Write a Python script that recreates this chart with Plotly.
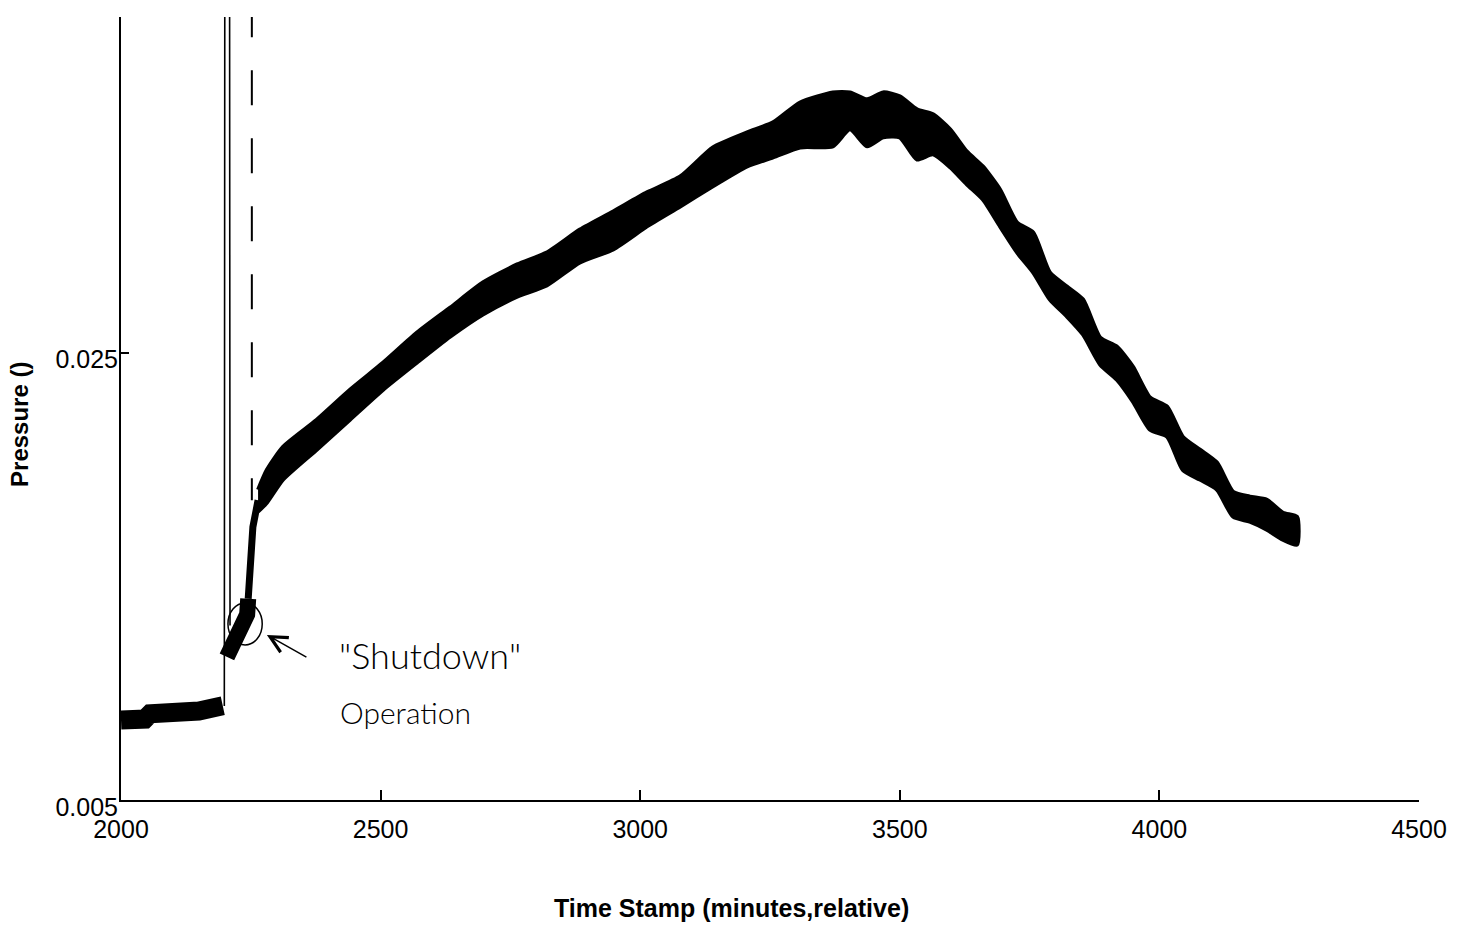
import plotly.graph_objects as go

# ---- data ----
pre_x = [2000, 2046, 2056, 2100, 2150, 2196]
pre_y = [0.00858, 0.00862, 0.00885, 0.00889, 0.00898, 0.00921]

spike_x = [2199, 2201, 2208, 2210]
spike_y = [0.0092, 0.080, 0.080, 0.0128]

blob_x = [2204, 2214, 2229, 2243, 2245]
blob_y = [0.0114, 0.0119, 0.0126, 0.0133, 0.0140]

rise_x = [2245, 2248, 2254, 2264]
rise_y = [0.0140, 0.0157, 0.0172, 0.0184]

main_x = [2264, 2281, 2312, 2377, 2441, 2505, 2570, 2634, 2697, 2763, 2820, 2884,
          2948, 3013, 3077, 3140, 3206, 3256, 3308, 3371, 3404, 3437, 3468, 3500,
          3533, 3564, 3597, 3629, 3660, 3693, 3726, 3757, 3789, 3822, 3853, 3886,
          3918, 3949, 3982, 4015, 4045, 4078, 4111, 4142, 4174, 4207, 4238, 4265]
main_upper = [0.01887, 0.01976, 0.02079, 0.02200, 0.02334, 0.02455, 0.02589, 0.02701,
              0.02813, 0.02894, 0.02947, 0.03050, 0.03131, 0.03216, 0.03287, 0.03417,
              0.03484, 0.03529, 0.03618, 0.03663, 0.03663, 0.03632, 0.03663, 0.03645,
              0.03587, 0.03565, 0.03498, 0.03399, 0.03332, 0.03229, 0.03081, 0.03037,
              0.02858, 0.02795, 0.02737, 0.02567, 0.02527, 0.02437, 0.02299, 0.02258,
              0.02124, 0.02066, 0.02008, 0.01878, 0.01856, 0.01842, 0.01784, 0.01766]
main_lower = [0.01789, 0.01829, 0.01932, 0.02066, 0.02200, 0.02334, 0.02455, 0.02571,
              0.02670, 0.02750, 0.02800, 0.02903, 0.02961, 0.03064, 0.03153, 0.03243,
              0.03332, 0.03372, 0.03417, 0.03422, 0.03498, 0.03422, 0.03462, 0.03462,
              0.03363, 0.03386, 0.03328, 0.03252, 0.03184, 0.03064, 0.02947, 0.02858,
              0.02737, 0.02661, 0.02580, 0.02446, 0.02379, 0.02281, 0.02155, 0.02124,
              0.01976, 0.01932, 0.01887, 0.01766, 0.01744, 0.01708, 0.01663, 0.01641]

dash_x = [2252, 2252]
dash_y = [0.04066, 0.0184]

x_ticks = [2000, 2500, 3000, 3500, 4000, 4500]
y_ticks = [0.005, 0.025]
y_ticktext = ["0.005", "0.025"]

FONT = "Liberation Sans"

fig = go.Figure()

fig.add_trace(go.Scatter(x=pre_x, y=pre_y, mode="lines",
                         line=dict(color="black", width=19)))
fig.add_trace(go.Scatter(x=spike_x, y=spike_y, mode="lines",
                         line=dict(color="black", width=1.6)))
fig.add_trace(go.Scatter(x=blob_x, y=blob_y, mode="lines",
                         line=dict(color="black", width=16)))
fig.add_trace(go.Scatter(x=rise_x, y=rise_y, mode="lines",
                         line=dict(color="black", width=7)))
fig.add_trace(go.Scatter(x=main_x + main_x[::-1], y=main_upper + main_lower[::-1],
                         mode="lines", fill="toself", fillcolor="black",
                         line=dict(color="black", width=4, shape="spline", smoothing=0.6)))
fig.add_trace(go.Scatter(x=dash_x, y=dash_y, mode="lines",
                         line=dict(color="black", width=2, dash="35px,33px")))

# hand-drawn annotation
fig.add_shape(type="circle", xref="x", yref="y", x0=2206, x1=2272, y0=0.01193, y1=0.01381,
              line=dict(color="black", width=1.5))
fig.add_annotation(x=2281, y=0.01238, ax=41, ay=23, axref="pixel", ayref="pixel",
                   text="", showarrow=True, arrowhead=5, arrowsize=2.2, arrowwidth=1.5,
                   arrowcolor="black")
fig.add_annotation(x=2595, y=0.01149, text="\"Shutdown\"", showarrow=False,
                   font=dict(family="Lato", size=36, color="black", weight=300))
fig.add_annotation(x=2547, y=0.00894, text="Operation", showarrow=False,
                   font=dict(family="Lato", size=30, color="black", weight=300))

# axis titles
fig.add_annotation(xref="paper", yref="paper", x=-0.0778, y=0.479, text="<b>Pressure ()</b>",
                   textangle=-90, showarrow=False, xanchor="center", yanchor="middle",
                   font=dict(family=FONT, size=24, color="black"))
fig.add_annotation(xref="paper", yref="paper", x=0.4707, y=-0.138,
                   text="<b>Time Stamp (minutes,relative)</b>",
                   showarrow=False, xanchor="center", yanchor="middle",
                   font=dict(family=FONT, size=25, color="black"))

fig.update_layout(
    width=1462, height=925,
    margin=dict(l=121, r=43, t=17, b=125),
    paper_bgcolor="white", plot_bgcolor="white",
    showlegend=False,
    font=dict(family=FONT, size=25, color="black"),
)
fig.update_xaxes(range=[2000, 4500], tickvals=x_ticks, ticks="inside", ticklen=10,
                 tickwidth=1.5, tickcolor="black", showline=True, linecolor="black",
                 linewidth=2, showgrid=False, zeroline=False, ticklabelstandoff=6,
                 tickfont=dict(family=FONT, size=25, color="black"))
fig.update_yaxes(range=[0.005, 0.04], tickvals=y_ticks, ticktext=y_ticktext,
                 ticks="inside", ticklen=8, tickwidth=1.5, tickcolor="black",
                 showline=True, linecolor="black", linewidth=2, showgrid=False,
                 zeroline=False, ticklabelstandoff=-4, ticklabelshift=7,
                 tickfont=dict(family=FONT, size=25, color="black"))

fig.write_html("out.html")
